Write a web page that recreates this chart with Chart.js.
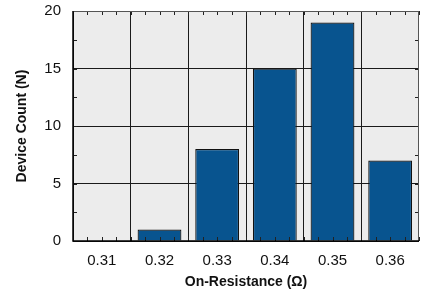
<!DOCTYPE html>
<html>
<head>
<meta charset="utf-8">
<script src="https://cdn.jsdelivr.net/npm/chart.js@4.4.0/dist/chart.umd.min.js"></script>
<style>
  html, body { margin: 0; padding: 0; background: #fff; }
  #wrap { width: 422px; height: 291px; }
</style>
</head>
<body>
<div id="wrap"><canvas id="myChart" width="422" height="291"></canvas></div>
<script>
// resistance bins and device counts
const resistance_bins = ['0.31', '0.32', '0.33', '0.34', '0.35', '0.36'];
const device_counts = [0, 1, 8, 15, 19, 7];
const count_ticks = [0, 5, 10, 15, 20];

// plot background + frame + little inward ticks
const framePlugin = {
    id: 'frame',
    beforeDraw(chart) {
        const a = chart.chartArea;
        const c = chart.ctx;
        c.save();
        c.fillStyle = '#ececec';
        c.fillRect(a.left, a.top, a.right - a.left, a.bottom - a.top);
        c.restore();
    },
    afterDraw(chart) {
        const a = chart.chartArea;
        const c = chart.ctx;
        const y = chart.scales.y;
        c.save();
        c.strokeStyle = '#222';
        c.lineWidth = 1;
        // minor y ticks every 2.5
        for (let v = 0; v <= 20; v += 2.5) {
            const py = Math.round(y.getPixelForValue(v)) + 0.5;
            c.beginPath();
            c.moveTo(a.left, py); c.lineTo(a.left + 4, py);
            c.moveTo(a.right, py); c.lineTo(a.right - 4, py);
            c.stroke();
        }
        // x ticks at quarter steps of each bin
        const step = (a.right - a.left) / resistance_bins.length / 4;
        for (let i = 0; i <= resistance_bins.length * 4; i++) {
            const px = Math.round(a.left + i * step) + 0.5;
            c.beginPath();
            c.moveTo(px, a.bottom); c.lineTo(px, a.bottom - 4);
            c.moveTo(px, a.top); c.lineTo(px, a.top + 4);
            c.stroke();
        }
        // frame
        c.strokeStyle = '#555';
        c.beginPath();
        c.moveTo(a.left, a.top + 0.5); c.lineTo(a.right, a.top + 0.5);
        c.moveTo(a.right - 0.5, a.top); c.lineTo(a.right - 0.5, a.bottom);
        c.stroke();
        c.strokeStyle = '#000';
        c.lineWidth = 1.5;
        c.beginPath();
        c.moveTo(a.left, a.top); c.lineTo(a.left, a.bottom);
        c.lineTo(a.right, a.bottom);
        c.stroke();
        c.restore();
    }
};

const ctx = document.getElementById('myChart').getContext('2d');
const myChart = new Chart(ctx, {
    type: 'bar',
    data: {
        labels: resistance_bins,
        datasets: [{
            label: 'Device Count',
            data: device_counts,
            backgroundColor: '#08548f',
            borderColor: '#111',
            borderWidth: 1.2,
            barPercentage: 0.76,
            categoryPercentage: 1.0,
        }]
    },
    options: {
        responsive: false,
        animation: false,
        layout: {
            padding: { left: 14, right: 3, top: 0, bottom: 0 }
        },
        scales: {
            x: {
                afterFit: function(scale) { scale.height = 50; },
                grid: {
                    offset: true,
                    color: '#1a1a1a',
                    lineWidth: 1,
                    drawTicks: false,
                },
                border: { display: false },
                ticks: {
                    color: '#111',
                    padding: 11,
                    font: { family: 'Liberation Sans, Arial, sans-serif', size: 15 }
                },
                title: {
                    display: true,
                    text: 'On-Resistance (Ω)',
                    color: '#111',
                    padding: { top: 0, bottom: 0 },
                    font: { family: 'Liberation Sans, Arial, sans-serif', size: 14, weight: 'bold' }
                }
            },
            y: {
                min: 0,
                max: 20,
                afterFit: function(scale) {
                    scale.width = 59;
                    scale.paddingTop = 11;
                    scale.paddingBottom = 9;
                },
                grid: {
                    color: '#1a1a1a',
                    lineWidth: 1,
                    drawTicks: false,
                },
                border: { display: false },
                afterBuildTicks: function(scale) {
                    scale.ticks = count_ticks.map(v => ({ value: v }));
                },
                ticks: {
                    color: '#111',
                    padding: 12,
                    font: { family: 'Liberation Sans, Arial, sans-serif', size: 15 }
                },
                title: {
                    display: true,
                    text: 'Device Count (N)',
                    color: '#111',
                    padding: { top: 0, bottom: 0 },
                    font: { family: 'Liberation Sans, Arial, sans-serif', size: 14, weight: 'bold' }
                }
            }
        },
        plugins: {
            legend: { display: false },
            tooltip: { enabled: false }
        }
    },
    plugins: [framePlugin]
});
</script>
</body>
</html>
